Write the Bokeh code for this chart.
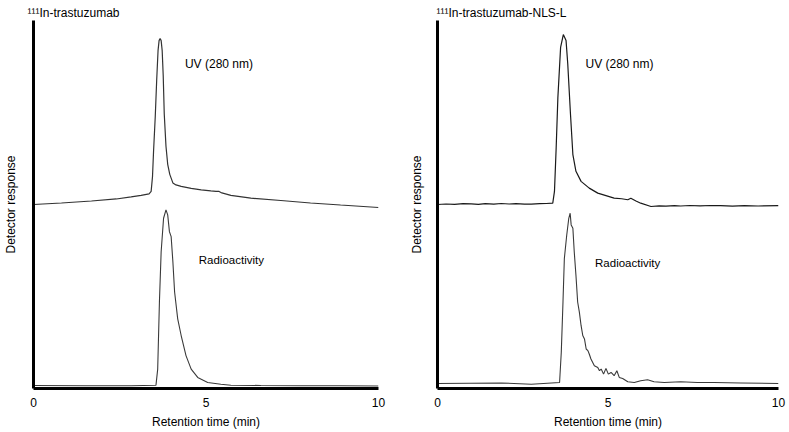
from bokeh.plotting import figure
from bokeh.models import Range1d, FixedTicker, Label
from bokeh.layouts import row
from bokeh.embed import file_html
from bokeh.resources import INLINE

FONT = "Liberation Sans"

# ---- data: retention time (min) and detector response (arbitrary units) ----
uv_a_time = [0.00, 0.81, 1.68, 2.40, 2.83, 3.12, 3.35, 3.41, 3.45, 3.48, 3.53, 3.57, 3.61, 3.64,
             3.67, 3.70, 3.73, 3.76, 3.79, 3.84, 3.89, 3.95, 4.04, 4.13, 4.28, 4.57, 4.86, 5.14,
             5.29, 5.38, 5.46, 5.72, 6.30, 7.17, 8.03, 8.90, 10.00]
uv_a_resp = [183, 184.5, 186.5, 188.5, 190.5, 192, 193.5, 196, 211, 236, 271, 306, 336, 346,
             348, 346, 336, 311, 273, 241, 223, 213, 204.5, 202.5, 201, 199, 197.5, 196.5,
             196, 196, 194.5, 192, 189.3, 187, 184.5, 182.5, 180]

rad_a_time = [0.00, 1.50, 2.83, 3.55, 3.60, 3.65, 3.70, 3.77, 3.84, 3.89, 3.94, 3.99, 4.04, 4.09,
              4.18, 4.28, 4.42, 4.57, 4.76, 5.05, 5.43, 5.72, 6.59, 7.75, 8.90, 10.00]
rad_a_resp = [3, 2.8, 2.7, 3.3, 19.3, 86, 136, 169.3, 177.7, 172.7, 156, 151, 126, 96,
              69.3, 52.7, 32.7, 19.3, 11, 6, 4.3, 3.3, 3, 2.7, 2.7, 2.5]

uv_b_time = [0.00, 0.25, 0.50, 0.75, 0.99, 1.20, 1.40, 1.65, 1.87, 2.10, 2.30, 2.55, 2.75, 3.00,
             3.19, 3.38, 3.43, 3.48, 3.53, 3.61, 3.69, 3.77, 3.82, 3.90, 3.97, 4.06, 4.21, 4.45,
             4.70, 5.18, 5.40, 5.58, 5.67, 5.82, 5.96, 6.26, 6.50, 6.70, 6.95, 7.13, 7.40, 7.70,
             8.00, 8.30, 8.65, 9.00, 9.40, 10.00]
uv_b_resp = [183, 183.5, 183.1, 183.8, 183.6, 183.2, 183.8, 183.4, 184.0, 183.5, 183.9, 183.4, 183.3, 183.8,
             184.0, 184.3, 196, 239.3, 289.3, 339.3, 352, 346, 322.7, 272.7, 232.7, 216, 206, 199.3,
             194.3, 189.3, 188.7, 187.7, 189.3, 186.5, 184.3, 181, 181.7, 181.3, 181.9, 181.5, 182.0, 181.6,
             182.0, 181.8, 181.4, 181.8, 181.5, 181.8]

rad_b_time = [0.00, 1.87, 2.75, 3.58, 3.63, 3.68, 3.72, 3.79, 3.85, 3.89, 3.92, 3.97, 4.01, 4.06,
              4.11, 4.16, 4.21, 4.26, 4.31, 4.36, 4.41, 4.45, 4.50, 4.60, 4.70, 4.75, 4.80, 4.87,
              4.94, 5.01, 5.09, 5.18, 5.26, 5.33, 5.43, 5.58, 5.77, 5.96, 6.16, 6.35, 6.65, 7.13,
              7.62, 8.11, 8.89, 10.00]
rad_b_resp = [5, 5.5, 4.3, 6, 36, 86, 129.3, 152.7, 169.3, 174.3, 162.7, 159.3, 136, 112.7,
              86, 76, 62.7, 52.7, 49.3, 39.3, 37.7, 34.3, 29.3, 22.7, 21, 17.7, 19.3, 14.3,
              20, 14.3, 16, 12.7, 17.7, 11, 10, 6.7, 6, 7.7, 8.7, 6.7, 6, 6.7,
              6, 6, 5.5, 5]

x_ticks = [0, 5, 10]
titles = ["\u00b9\u00b9\u00b9In-trastuzumab", "\u00b9\u00b9\u00b9In-trastuzumab-NLS-L"]


def panel(width, border_left, border_right, ylab_standoff, title, t_off,
          uv_t, uv_r, rad_t, rad_r, uv_lab, rad_lab, uv_color):
    p = figure(width=width, height=431, x_range=Range1d(0, 10), y_range=Range1d(0, 366),
               output_backend="svg", toolbar_location=None,
               min_border_left=border_left, min_border_right=border_right,
               min_border_top=20, min_border_bottom=0)
    p.grid.visible = False
    p.outline_line_color = None
    p.background_fill_color = "white"

    p.title.text = title
    p.title.text_font = FONT
    p.title.text_font_size = "12px"
    p.title.text_font_style = "normal"
    p.title.text_color = "black"
    p.title.align = "left"
    p.title.offset = t_off
    p.title.standoff = 1

    ax = p.xaxis[0]
    ax.ticker = FixedTicker(ticks=x_ticks)
    ax.major_tick_out = 0
    ax.major_tick_in = 0
    ax.minor_tick_line_color = None
    ax.axis_line_width = 3
    ax.axis_line_color = "black"
    ax.major_label_text_font = FONT
    ax.major_label_text_font_size = "12px"
    ax.major_label_text_color = "black"
    ax.major_label_standoff = 9
    ax.axis_label = "Retention time (min)"
    ax.axis_label_text_font = FONT
    ax.axis_label_text_font_size = "12px"
    ax.axis_label_text_font_style = "normal"
    ax.axis_label_text_color = "black"
    ax.axis_label_standoff = 5

    ay = p.yaxis[0]
    ay.ticker = FixedTicker(ticks=[])
    ay.major_tick_out = 0
    ay.major_tick_in = 0
    ay.minor_tick_line_color = None
    ay.axis_line_width = 3
    ay.axis_line_color = "black"
    ay.axis_label = "Detector response"
    ay.axis_label_text_font = FONT
    ay.axis_label_text_font_size = "12px"
    ay.axis_label_text_font_style = "normal"
    ay.axis_label_text_color = "black"
    ay.axis_label_standoff = ylab_standoff

    p.line(uv_t, uv_r, line_color=uv_color, line_width=1.2)
    p.line(rad_t, rad_r, line_color="#3a3a3a", line_width=1.1)

    p.add_layout(Label(x=uv_lab[0], y=uv_lab[1], text="UV (280 nm)", text_font=FONT,
                       text_font_size="12px", text_baseline="alphabetic", text_color="black"))
    p.add_layout(Label(x=rad_lab[0], y=rad_lab[1], text="Radioactivity", text_font=FONT,
                       text_font_size="11.5px", text_baseline="alphabetic", text_color="black"))
    return p


p1 = panel(406, 32, 28, 16, titles[0], -6,
           uv_a_time, uv_a_resp, rad_a_time, rad_a_resp, (4.39, 323), (4.79, 128), "#333333")
p2 = panel(381, 30, 9, 14, titles[1], -1,
           uv_b_time, uv_b_resp, rad_b_time, rad_b_resp, (4.34, 323), (4.62, 125), "#1a1a1a")

layout = row(p1, p2)
open("out.html", "w").write(file_html(layout, INLINE))
